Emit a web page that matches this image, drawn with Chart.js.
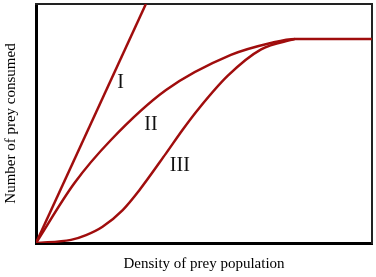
<!DOCTYPE html>
<html>
<head>
<meta charset="utf-8">
<script src="https://cdn.jsdelivr.net/npm/chart.js"></script>
<style>
  html, body { margin: 0; padding: 0; background: #fff; }
  #wrap { width: 376px; height: 277px; }
</style>
</head>
<body>
<div id="wrap"><canvas id="chart"></canvas></div>
<script>
// values (x = prey density, y = prey consumed, 0..100)
const typeI_x = [0, 32.7];
const typeI_y = [0, 100];
const typeII_x = [0, 11.4, 22.3, 38.7, 58.0, 69.9, 77.1, 100];
const typeII_y = [0, 25.0, 43.1, 64.0, 78.7, 83.7, 85.4, 85.4];
const typeIII_x = [0, 10.4, 14.9, 19.8, 25.8, 30.7, 38.7, 43.7, 48.6, 57.1, 67.0, 77.1];
const typeIII_y = [0, 1.3, 3.3, 6.8, 13.8, 22.0, 37.5, 47.5, 56.5, 70.0, 81.0, 85.4];
const curveLabels = ["I", "II", "III"];
const labelPos = [[25.2, 66.9], [34.2, 49.4], [42.8, 32.2]];

const lineColor = "#a00d0d";
const serif = "'Liberation Serif', 'DejaVu Serif', serif";

function toPoints(xs, ys) {
  return xs.map((x, i) => ({ x: x, y: ys[i] }));
}

function curve(xs, ys) {
  return {
    data: toPoints(xs, ys),
    borderColor: lineColor,
    borderWidth: 2.5,
    pointRadius: 0,
    fill: false,
    cubicInterpolationMode: "monotone",
  };
}

// writes I, II, III next to the curves
const curveText = {
  id: "curveText",
  afterDatasetsDraw(chart) {
    const { ctx, scales } = chart;
    ctx.save();
    ctx.fillStyle = "#111";
    ctx.font = "20px " + serif;
    ctx.textAlign = "center";
    ctx.textBaseline = "middle";
    curveLabels.forEach((t, i) => {
      ctx.fillText(t, scales.x.getPixelForValue(labelPos[i][0]), scales.y.getPixelForValue(labelPos[i][1]));
    });
    ctx.restore();
  },
};

const hidden = { display: false };

new Chart(document.getElementById("chart"), {
  type: "line",
  data: {
    datasets: [
      curve(typeI_x, typeI_y),
      curve(typeII_x, typeII_y),
      curve(typeIII_x, typeIII_y),
    ],
  },
  options: {
    responsive: true,
    maintainAspectRatio: false,
    animation: false,
    layout: { padding: { top: -4, right: -4, left: 2, bottom: 4 } },
    plugins: { legend: hidden, tooltip: { enabled: false } },
    scales: {
      x: {
        type: "linear",
        min: 0,
        max: 100,
        grid: { display: false },
        ticks: hidden,
        border: { color: "#000", width: 3 },
        title: {
          display: true,
          text: "Density of prey population",
          color: "#000",
          font: { family: serif, size: 15 },
          padding: { top: 4, bottom: 0 },
        },
      },
      y: {
        type: "linear",
        min: 0,
        max: 100,
        grid: { display: false },
        ticks: hidden,
        border: { color: "#000", width: 3 },
        title: {
          display: true,
          text: "Number of prey consumed",
          color: "#000",
          font: { family: serif, size: 15 },
          padding: { top: 0, bottom: 8 },
        },
      },
      x2: {
        type: "linear",
        position: "top",
        grid: { display: false },
        ticks: hidden,
        border: { color: "#222", width: 2 },
      },
      y2: {
        type: "linear",
        position: "right",
        grid: { display: false },
        ticks: hidden,
        border: { color: "#222", width: 2 },
      },
    },
  },
  plugins: [curveText],
});
</script>
</body>
</html>
